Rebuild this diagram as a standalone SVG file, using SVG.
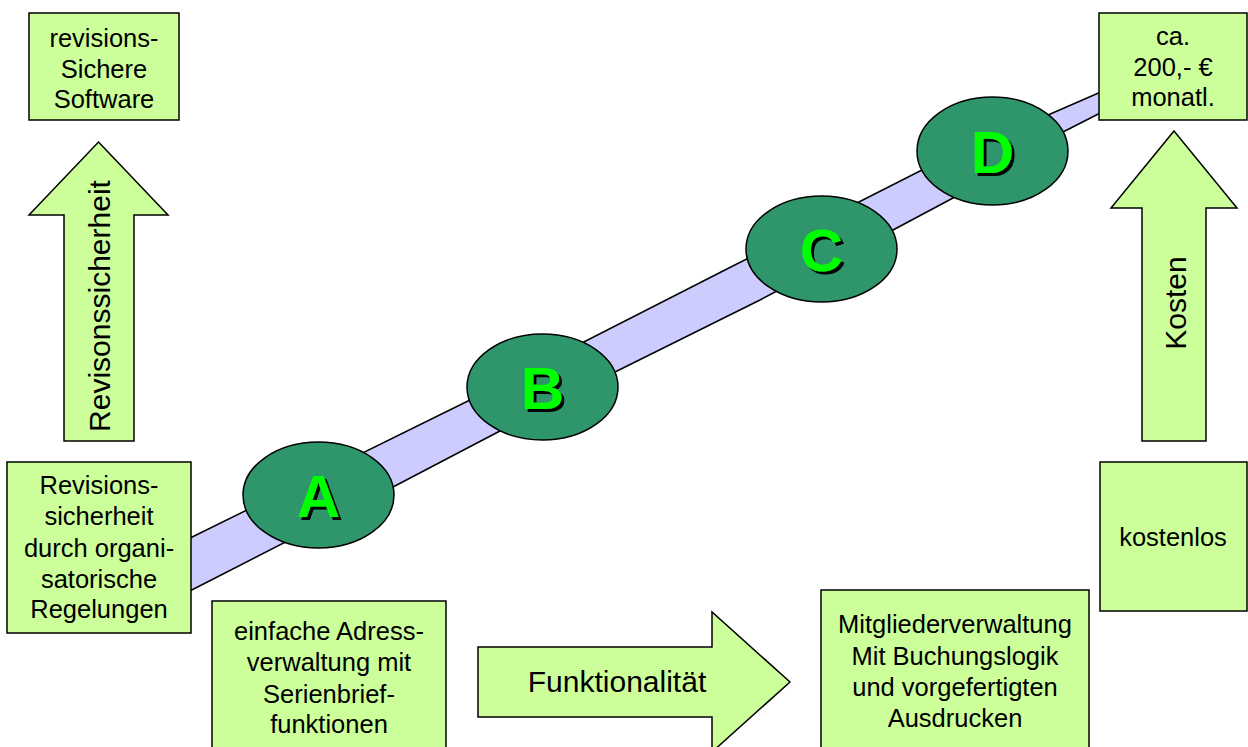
<svg xmlns="http://www.w3.org/2000/svg" width="1248" height="747" viewBox="0 0 1248 747">
<defs>
<filter id="shadow" x="-20%" y="-20%" width="150%" height="150%">
<feOffset in="SourceAlpha" dx="3" dy="3" result="off"/>
<feFlood flood-color="#000"/>
<feComposite in2="off" operator="in" result="sh"/>
<feMerge><feMergeNode in="sh"/><feMergeNode in="SourceGraphic"/></feMerge>
</filter>
</defs>
<style>
.box{fill:#CCFF99;stroke:#000;stroke-width:1.5}
.arr{fill:#CCFF99;stroke:#000;stroke-width:1.5;stroke-linejoin:miter}
.t{font-family:"Liberation Sans",Arial,sans-serif;font-size:25.5px;fill:#000;text-anchor:middle}
.big{font-family:"Liberation Sans",Arial,sans-serif;font-size:30px;fill:#000;text-anchor:middle}
.ell{fill:#2E966A;stroke:#000;stroke-width:1.5}
.lt{font-family:"Liberation Sans",Arial,sans-serif;font-weight:bold;font-size:60px;text-anchor:middle;fill:#00FF00;filter:url(#shadow)}
</style>
<rect width="1248" height="747" fill="#fff"/>
<g id="connectors">
<polygon id="band" points="180,543 470,400 723,271 920,171 1048,115 1110,88 1110,108 1063,132 953,198 893,230 760,300 615,372 498,432 393,487 180,596" fill="#CCCCFF" stroke="#000" stroke-width="1.5" stroke-linejoin="round"/>
</g>
<g id="node-top-left">
<rect class="box" x="29" y="13" width="150" height="107"/>
<text class="t" x="104" y="47">revisions-</text>
<text class="t" x="104" y="78">Sichere</text>
<text class="t" x="104" y="108">Software</text>
</g>
<g id="node-top-right">
<rect class="box" x="1099" y="13" width="148" height="107"/>
<text class="t" x="1173" y="45">ca.</text>
<text class="t" x="1173" y="76">200,- €</text>
<text class="t" x="1173" y="106">monatl.</text>
</g>
<g id="arrow-revision">
<polygon class="arr" points="98.5,142 168,215 134,215 134,441 64,441 64,215 29,215"/>
<text class="big" transform="translate(110,306) rotate(-90)">Revisonssicherheit</text>
</g>
<g id="arrow-kosten">
<polygon class="arr" points="1174,131 1237,208 1206,208 1206,441 1142,441 1142,208 1111,208"/>
<text class="big" transform="translate(1186,303) rotate(-90)">Kosten</text>
</g>
<g id="node-left">
<rect class="box" x="7" y="462" width="184" height="171"/>
<text class="t" x="99" y="494">Revisions-</text>
<text class="t" x="99" y="525">sicherheit</text>
<text class="t" x="99" y="557">durch organi-</text>
<text class="t" x="99" y="588">satorische</text>
<text class="t" x="99" y="618">Regelungen</text>
</g>
<g id="node-kostenlos">
<rect class="box" x="1100" y="462" width="147" height="149"/>
<text class="t" x="1173" y="546">kostenlos</text>
</g>
<g id="node-einfache">
<rect class="box" x="212" y="601" width="234" height="150"/>
<text class="t" x="329" y="640">einfache Adress-</text>
<text class="t" x="329" y="671">verwaltung mit</text>
<text class="t" x="329" y="703">Serienbrief-</text>
<text class="t" x="329" y="733">funktionen</text>
</g>
<g id="arrow-funktionalitaet">
<polygon class="arr" points="478,647 712,647 712,612 790,682 712,752 712,717 478,717"/>
<text class="big" x="617" y="692">Funktionalität</text>
</g>
<g id="node-mitglieder">
<rect class="box" x="821" y="590" width="268" height="160"/>
<text class="t" x="955" y="633">Mitgliederverwaltung</text>
<text class="t" x="955" y="665">Mit Buchungslogik</text>
<text class="t" x="955" y="696">und vorgefertigten</text>
<text class="t" x="955" y="727">Ausdrucken</text>
</g>
<g id="node-A">
<ellipse class="ell" cx="318.5" cy="495" rx="75.5" ry="53"/>
<text class="lt" x="318.5" y="517">A</text>
</g>
<g id="node-B">
<ellipse class="ell" cx="542.5" cy="387" rx="75.5" ry="53"/>
<text class="lt" x="542.5" y="409">B</text>
</g>
<g id="node-C">
<ellipse class="ell" cx="821.5" cy="249" rx="75.5" ry="53"/>
<text class="lt" x="821.5" y="271">C</text>
</g>
<g id="node-D">
<ellipse class="ell" cx="992.5" cy="151" rx="75.5" ry="54"/>
<text class="lt" x="992.5" y="173">D</text>
</g>
</svg>
